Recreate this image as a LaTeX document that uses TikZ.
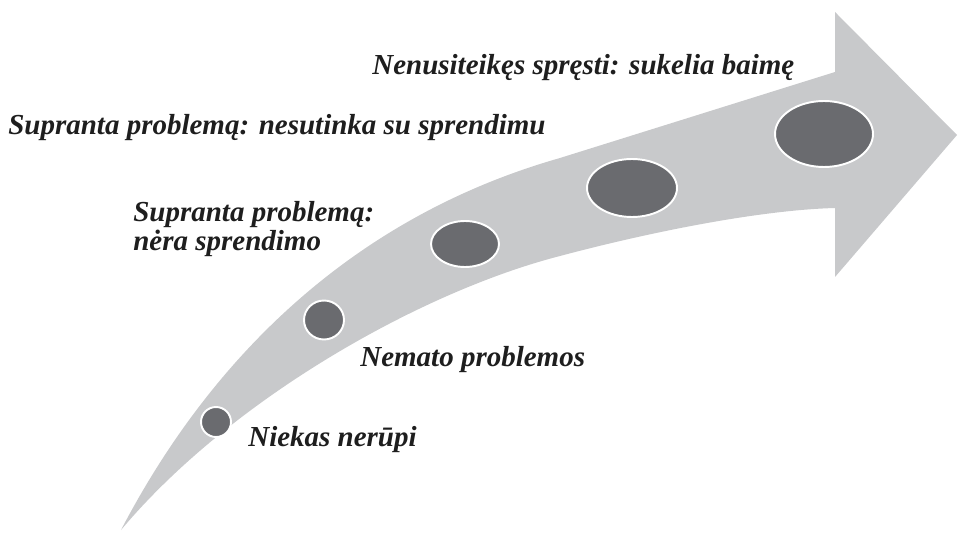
\documentclass[tikz,border=0pt]{standalone}
\usepackage{fontspec}
\setmainfont{Liberation Serif}
\usepackage{tikz}
\usetikzlibrary{shapes.geometric}
\definecolor{arrowgrey}{HTML}{C8C9CB}
\definecolor{dotgrey}{HTML}{6A6B6F}
\definecolor{textblack}{HTML}{1E1E1E}

\begin{document}
\begin{tikzpicture}[x=0.02cm,y=-0.02cm,
    stage/.style={ellipse, fill=dotgrey, draw=white, line width=1.1pt, inner sep=0pt},
    caption/.style={anchor=west, inner sep=0pt, text=textblack, font=\fontsize{16.5}{17}\selectfont\bfseries\itshape, align=left}]
    \useasboundingbox (0,0) rectangle (959,533);
    % curved arrow
    \fill[arrowgrey] (121,530) .. controls (215,350) and (360,215) .. (560,158) -- (835,72)
        -- (835,12) -- (957,135) -- (835,277) -- (835,208)
        .. controls (760,210) and (650,232) .. (560,256)
        .. controls (420,292) and (230,400) .. (121,530) -- cycle;
    % stages
    \node[stage, minimum width=0.6cm, minimum height=0.6cm] (e1) at (216,422) {};
    \node[stage, minimum width=0.8cm, minimum height=0.78cm] (e2) at (324,320) {};
    \node[stage, minimum width=1.36cm, minimum height=0.92cm] (e3) at (465,244) {};
    \node[stage, minimum width=1.8cm, minimum height=1.16cm] (e4) at (632,188) {};
    \node[stage, minimum width=1.96cm, minimum height=1.32cm] (e5) at (824,134) {};
    % labels
    \node[caption] (l5) at (372,68) {Nenusiteikęs spręsti: sukelia baimę};
    \node[caption] (l4) at (8,128) {Supranta problemą: nesutinka su sprendimu};
    \node[caption] (l3) at (133,229) {Supranta problemą:\\nėra sprendimo};
    \node[caption] (l2) at (360,360) {Nemato problemos};
    \node[caption] (l1) at (248,440) {Niekas nerūpi};
\end{tikzpicture}
\end{document}
